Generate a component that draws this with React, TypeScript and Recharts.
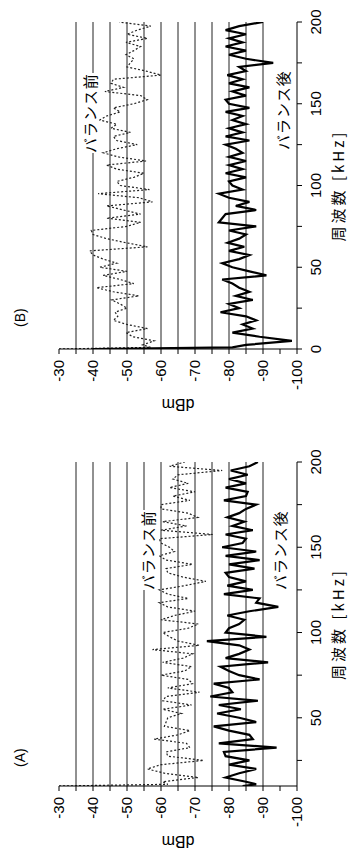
import { LineChart, Line, XAxis, YAxis, ReferenceLine } from "recharts";

// panel (A): frequency [kHz] and level [dBm]
const freqA = [
  10, 11, 12.5, 15, 17.5, 20, 22.5, 25, 27.5, 30,
  32.5, 35, 37.5, 40, 42.5, 45, 47.5, 50, 52.5, 55,
  57.5, 60, 62.5, 65, 67.5, 70, 72.5, 75, 77.5, 80,
  82.5, 85, 87.5, 90, 92.5, 95, 97.5, 100, 102.5, 105,
  107.5, 110, 112.5, 115, 117.5, 120, 122.5, 125, 127.5, 130,
  132.5, 135, 137.5, 140, 142.5, 145, 147.5, 150, 152.5, 155,
  157.5, 160, 162.5, 165, 167.5, 170, 172.5, 175, 177.5, 180,
  182.5, 185, 187.5, 190, 192.5, 195, 197.5, 200,
];
const beforeA = [
  -30, -62, -60.5, -71, -61, -56, -60, -72.5, -62, -61.5,
  -68.5, -67.5, -58, -65, -68.5, -61, -61.5, -62, -66, -60.5,
  -69, -60.5, -61.5, -71.3, -62, -69.3, -68, -60, -67, -69,
  -60.5, -66.5, -69.3, -57.5, -71.3, -65, -62.5, -60.5, -68, -71,
  -60, -64, -70, -62, -59.5, -68, -62, -59.5, -67, -73.2,
  -66.5, -62, -61.5, -69.3, -61.5, -59.5, -64, -62.5, -60, -59.5,
  -75.2, -60, -67.5, -60.5, -70.8, -68, -60, -60, -68.5, -63.5,
  -70, -62.5, -68, -63.5, -65, -78, -62.5, -67,
];
const afterA = [
  -84, -88, -85, -79, -83, -88, -80, -86, -79, -78.5,
  -94, -77, -87, -86, -80, -75.5, -88, -83, -76.5, -83.5,
  -77, -88.5, -74.5, -81, -80, -75.5, -89, -83, -80, -77.5,
  -91.5, -79, -83, -86, -83, -73.5, -91, -79, -80, -83,
  -84.5, -79.5, -86, -94.5, -88, -89, -78.5, -87, -79.5, -85,
  -80, -79, -87.5, -80, -89, -79, -88, -78, -84, -85,
  -79, -87, -81, -84.5, -79.5, -83, -85, -88, -78.5, -85,
  -85.5, -79, -85, -80, -85.5, -80.5, -86, -88.5,
];

// panel (B)
const freqB = [
  0, 1, 2.5, 5, 7.5, 10, 12.5, 15, 17.5, 20,
  22.5, 25, 27.5, 30, 32.5, 35, 37.5, 40, 42.5, 45,
  47.5, 50, 52.5, 55, 57.5, 60, 62.5, 65, 67.5, 70,
  72.5, 75, 77.5, 80, 82.5, 85, 87.5, 90, 92.5, 95,
  97.5, 100, 102.5, 105, 107.5, 110, 112.5, 115, 117.5, 120,
  122.5, 125, 127.5, 130, 132.5, 135, 137.5, 140, 142.5, 145,
  147.5, 150, 152.5, 155, 157.5, 160, 162.5, 165, 167.5, 170,
  172.5, 175, 177.5, 180, 182.5, 185, 187.5, 190, 192.5, 195,
  197.5, 200,
];
const beforeB = [
  -30, -57, -54.6, -58, -51.7, -49.7, -56, -50, -46, -47.3,
  -46.5, -50, -48, -45.5, -53.5, -46, -41, -52, -48, -43,
  -50, -42, -47, -43, -40, -39, -56, -49.7, -44, -40,
  -39.5, -50, -54, -44, -54, -49, -44, -57.5, -53.6, -41.5,
  -56.6, -48, -47, -52, -55, -47, -44, -55.6, -47.3, -43,
  -47, -53, -47, -46, -51, -45.3, -47, -42, -44, -48,
  -46, -52, -56, -54, -43.5, -49, -45.3, -46, -60, -55.6,
  -50, -51, -52, -49.7, -52, -54, -49.7, -56, -50, -53,
  -57, -47.7,
];
const afterB = [
  -40, -81, -85, -98.5, -89, -81, -87, -84, -88, -85,
  -77.5, -83, -80, -87, -82, -86, -83, -81, -78, -91,
  -86, -81, -78, -83, -86, -80, -84.5, -79.6, -83, -85,
  -80, -88, -77, -78, -79, -88, -82, -86, -80, -77,
  -84, -81, -80, -85, -79, -84, -80, -85, -80, -84,
  -82, -79, -86, -79, -84, -80, -85, -81, -84, -79,
  -86, -80, -79, -85, -81, -86, -80, -84, -79.5, -85,
  -83, -93, -85, -80, -85, -79, -84, -80, -85, -79,
  -83, -90,
];

const freqTicksA = [25, 50, 75, 100, 125, 150, 175, 200];
const freqTicksB = [0, 25, 50, 75, 100, 125, 150, 175, 200];
const dbTicks = [-30, -35, -40, -45, -50, -55, -60, -65, -70, -75, -80, -85, -90, -95, -100];
const gridDb = [-35, -40, -45, -50, -55, -60, -65, -70, -75, -80, -85, -90];

const rowsA = freqA.map((f, i) => ({ f, before: beforeA[i], after: afterA[i] }));
const rowsB = freqB.map((f, i) => ({ f, before: beforeB[i], after: afterB[i] }));

const tickFont = { fontSize: 15, fill: "#000", fontFamily: "'Liberation Sans', Arial, sans-serif" };
const jp = "'Noto Sans CJK JP', 'Liberation Sans', sans-serif";

const Panel = ({ data, domain, ticks, width, right }: any) => (
  <LineChart width={width} height={358} data={data} margin={{ top: 59, right, bottom: 31, left: 0 }}>
    {gridDb.map((v) => (
      <ReferenceLine key={v} y={v} stroke="#222" strokeWidth={1} />
    ))}
    <XAxis
      dataKey="f"
      type="number"
      domain={domain}
      ticks={ticks}
      interval={0}
      allowDataOverflow
      height={30}
      tickSize={5}
      tickMargin={8}
      tickFormatter={(v: number) => (v % 50 === 0 ? String(v) : "")}
      tick={tickFont}
      stroke="#000"
      label={{ value: "周波数 [kHz]", position: "bottom", offset: 6, fontSize: 15, fill: "#000", fontFamily: jp, letterSpacing: 3 }}
    />
    <YAxis
      type="number"
      domain={[-100, -30]}
      ticks={dbTicks}
      interval={0}
      width={69}
      tickSize={5}
      tickMargin={6}
      tickFormatter={(v: number) => (v % 10 === 0 ? String(v) : "")}
      tick={tickFont}
      stroke="#000"
      label={{ value: "dBm", angle: -90, position: "center", dx: -21, fontSize: 16, fill: "#000", fontFamily: "'Liberation Sans', Arial" }}
    />
    <Line type="linear" dataKey="before" stroke="#222" strokeWidth={1.2} strokeDasharray="2 2" dot={false} isAnimationActive={false} />
    <Line type="linear" dataKey="after" stroke="#000" strokeWidth={2.2} dot={false} isAnimationActive={false} />
  </LineChart>
);

const tag = (text: string, left: number, top: number) => (
  <div
    style={{
      position: "absolute",
      left,
      top,
      background: "#fff",
      fontFamily: jp,
      fontSize: 15,
      lineHeight: "18px",
      letterSpacing: 1,
      color: "#000",
      whiteSpace: "nowrap",
    }}
  >
    {text}
  </div>
);

export default function App() {
  return (
    <div
      style={{
        position: "absolute",
        left: 0,
        top: 0,
        width: 855,
        height: 358,
        background: "#fff",
        transformOrigin: "0 0",
        transform: "translateY(855px) rotate(-90deg)",
        overflow: "hidden",
      }}
    >
      <div style={{ position: "absolute", left: 0, top: 0 }}>
        <Panel data={rowsA} domain={[10, 200]} ticks={freqTicksA} width={430} right={37} />
      </div>
      <div style={{ position: "absolute", left: 437, top: 0 }}>
        <Panel data={rowsB} domain={[0, 200]} ticks={freqTicksB} width={414} right={18} />
      </div>
      <div style={{ position: "absolute", left: 88, top: 12, fontSize: 14, fontFamily: "'Liberation Sans', Arial", color: "#000" }}>(A)</div>
      <div style={{ position: "absolute", left: 528, top: 12, fontSize: 14, fontFamily: "'Liberation Sans', Arial", color: "#000" }}>(B)</div>
      {tag("バランス前", 265, 139)}
      {tag("バランス後", 265, 271)}
      {tag("バランス前", 702, 81)}
      {tag("バランス後", 705, 274)}
    </div>
  );
}
